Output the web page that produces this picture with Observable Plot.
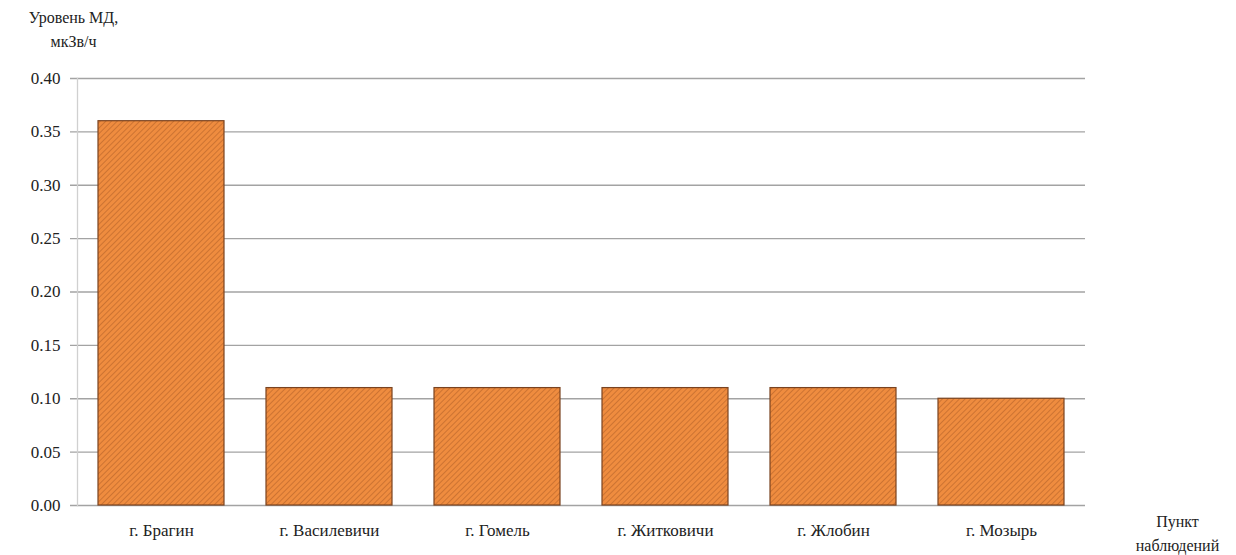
<!DOCTYPE html>
<html>
<head>
<meta charset="utf-8">
<script src="https://cdn.jsdelivr.net/npm/d3@7"></script>
<script src="https://cdn.jsdelivr.net/npm/@observablehq/plot@0.6"></script>
<style>
  html, body { margin: 0; padding: 0; background: #fff; }
  #chart svg { display: block; }
  #chart svg, #chart svg text { font-family: "Times New Roman", Times, "Liberation Serif", "DejaVu Serif", "Noto Serif", serif !important; }
</style>
</head>
<body>
<div id="chart"></div>
<script>
const categories = ["г. Брагин", "г. Василевичи", "г. Гомель", "г. Житковичи", "г. Жлобин", "г. Мозырь"];
const values = [0.36, 0.11, 0.11, 0.11, 0.11, 0.10];
const yTicks = [0, 0.05, 0.10, 0.15, 0.20, 0.25, 0.30, 0.35, 0.40];
const yTitle = "Уровень МД,\nмкЗв/ч";
const xTitle = "Пункт\nнаблюдений";

const data = categories.map((c, i) => ({category: c, value: values[i]}));
const font = "'Times New Roman', Times, 'Liberation Serif', 'DejaVu Serif', serif";

const chart = Plot.plot({
  width: 1236,
  height: 555,
  marginLeft: 77,
  marginRight: 151,
  marginTop: 78,
  marginBottom: 50,
  style: {fontFamily: font, fontSize: "16px", color: "#222", background: "#fff"},
  x: {domain: categories, paddingInner: 0.25, paddingOuter: 0.125, label: null},
  y: {domain: [0, 0.4], label: null},
  marks: [
    Plot.ruleY(yTicks, {stroke: "#a3a3a3", strokeWidth: 1.3, insetLeft: -7}),
    Plot.frame({anchor: "left", stroke: "#d0d0d0", strokeWidth: 1.3}),
    Plot.barY(data, {x: "category", y: "value", fill: "url(#hatch)", stroke: "#7a4320", strokeWidth: 1.2}),
    Plot.axisY({ticks: yTicks, tickFormat: d3.format(".2f"), tickSize: 0, tickPadding: 17, fontSize: 17, label: null}),
    Plot.axisX({tickSize: 0, tickPadding: 18, fontSize: 17, label: null}),
    Plot.text([yTitle], {frameAnchor: "top-left", dx: -4, dy: -51, textAnchor: "middle", lineAnchor: "middle", lineHeight: 1.5, fontSize: 16, fill: "#222"}),
    Plot.text([xTitle], {frameAnchor: "bottom-right", dx: 92, dy: 26, textAnchor: "middle", lineAnchor: "middle", lineHeight: 1.45, fontSize: 16, fill: "#222"})
  ]
});

// hatch pattern definition
const ns = "http://www.w3.org/2000/svg";
const defs = document.createElementNS(ns, "defs");
defs.innerHTML = `
  <pattern id="hatch" patternUnits="userSpaceOnUse" width="4" height="4" patternTransform="rotate(45)">
    <rect width="4" height="4" fill="#ef8c3f"></rect>
    <line x1="0" y1="0" x2="0" y2="4" stroke="#b9652a" stroke-width="1.3"></line>
  </pattern>`;
chart.insertBefore(defs, chart.firstChild);

document.getElementById("chart").appendChild(chart);
</script>
</body>
</html>
